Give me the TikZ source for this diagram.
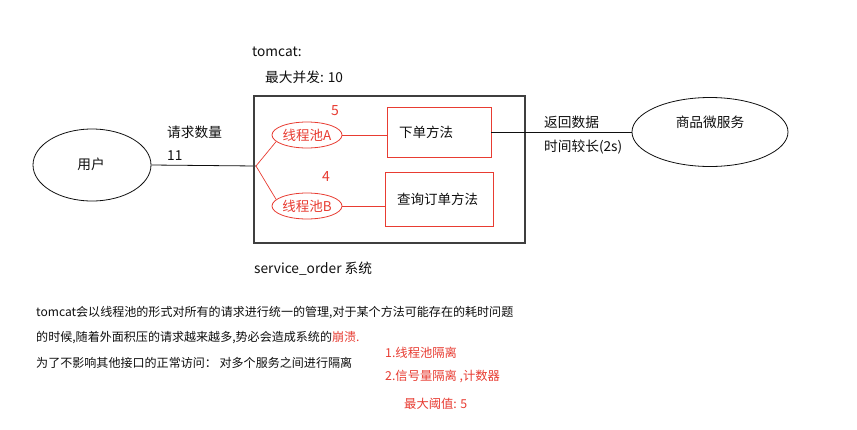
\documentclass[tikz,border=0pt]{standalone}
\usepackage{fontspec}
\setmainfont{Noto Sans CJK SC}
\usetikzlibrary{shapes.geometric}
\definecolor{myred}{RGB}{232,60,50}
\definecolor{ink}{RGB}{15,15,15}
\begin{document}
\begin{tikzpicture}[x=1pt,y=-1pt,
  txt/.style={inner sep=0pt,anchor=west,font=\fontsize{13.7}{16}\selectfont,text=ink},
  para/.style={inner sep=0pt,anchor=west,font=\fontsize{12.05}{15}\selectfont,text=ink},
  redtxt/.style={inner sep=0pt,anchor=west,font=\fontsize{12.3}{15}\selectfont,text=myred},
  bigell/.style={ellipse,draw=ink,line width=0.8pt,inner sep=0pt},
  pool/.style={ellipse,draw=myred,line width=0.8pt,inner sep=0pt,text=myred,minimum width=70pt,minimum height=26pt,font=\fontsize{13.5}{16}\selectfont},
  method/.style={rectangle,draw=myred,line width=0.8pt,inner ysep=0pt,inner xsep=12pt,align=left,font=\fontsize{13.5}{16}\selectfont,text=ink},
  num/.style={inner sep=0pt,text=myred,font=\fontsize{14}{16}\selectfont}
]
\useasboundingbox (0,0) rectangle (857,429);
\fill[white] (0,0) rectangle (857,429);

% user
\node[bigell,minimum width=118pt,minimum height=72pt] (user) at (92,165) {};
\node[txt,anchor=center] (userlbl) at (91,164) {用户};
\coordinate (j) at (256,166);
\draw[ink,line width=0.8pt] (user.east) -- (j);
\node[txt] (req) at (167,132) {请求数量};
\node[txt] (reqn) at (167,156) {11};

% tomcat box
\node[draw=ink!80,line width=1.3pt,minimum width=271pt,minimum height=147pt,inner sep=0pt] (tomcat) at (389.5,169.5) {};
\node[txt] (tc) at (252,52) {tomcat:};
\node[txt] (tcmax) at (265,77) {最大并发: 10};
\node[txt] (svcorder) at (254,269) {service\_order 系统};

% pools
\node[pool] (poolA) at (307,135) {线程池A};
\node[pool] (poolB) at (307,206) {线程池B};
\node[num] (n5) at (335,111) {5};
\node[num] (n4) at (326,177) {4};
\draw[myred,line width=0.7pt] (j) -- (poolA.192);
\draw[myred,line width=0.7pt] (j) -- (poolB.168);

% methods
\node[method,text width=80pt,minimum height=50pt] (boxA) at (439,132) {下单方法};
\node[method,text width=84pt,minimum height=54pt] (boxB) at (439,199) {查询订单方法};
\draw[myred,line width=0.8pt] (poolA.east) -- (poolA.east -| boxA.west);
\draw[myred,line width=0.8pt] (poolB.east) -- (poolB.east -| boxB.west);

% product service
\node[bigell,minimum width=156pt,minimum height=69pt] (svc) at (710,132) {};
\node[txt,anchor=center] (svclbl) at (710,122) {商品微服务};
\draw[ink,line width=0.8pt] (boxA.east) -- (svc.west);
\node[txt] (ret) at (544,122) {返回数据};
\node[txt] (time) at (544,147) {时间较长(2s)};

% paragraph
\node[para] (p1) at (36,313) {tomcat会以线程池的形式对所有的请求进行统一的管理,对于某个方法可能存在的耗时问题};
\node[para] (p2) at (36,338) {的时候,随着外面积压的请求越来越多,势必会造成系统的\textcolor{myred}{崩溃.}};
\node[para] (p3) at (36,363) {为了不影响其他接口的正常访问： 对多个服务之间进行隔离};
\node[redtxt] (r1) at (385,353) {1.线程池隔离};
\node[redtxt] (r2) at (385,376) {2.信号量隔离 ,计数器};
\node[redtxt] (r3) at (404,404) {最大阈值: 5};
\end{tikzpicture}
\end{document}
